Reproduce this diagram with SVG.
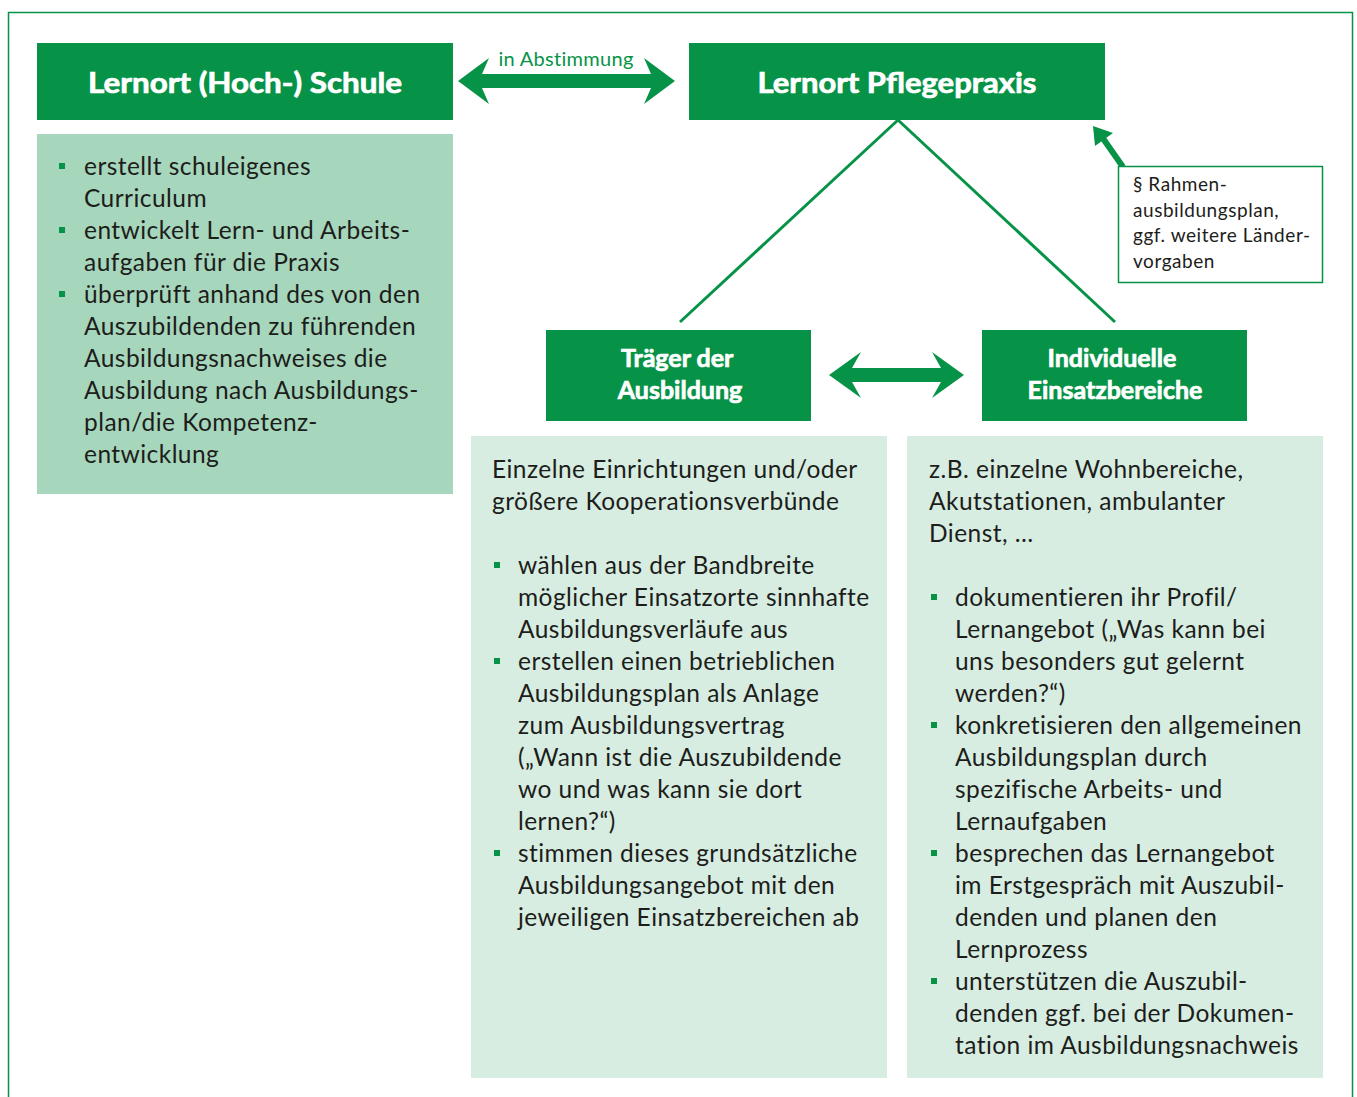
<svg xmlns="http://www.w3.org/2000/svg" width="1357" height="1097" viewBox="0 0 1357 1097">
<style>
.hdr{fill:#079347}
.lt{fill:#a6d6bc}
.pale{fill:#d7ede1}
.ht{font-family:Lato,"Open Sans",sans-serif;font-weight:bold;fill:#fff;stroke:#fff;stroke-width:0.7px;text-anchor:middle}
.bt{font-family:Lato,"Noto Sans",sans-serif;font-size:24.5px;letter-spacing:0.45px;fill:#1d1d1b}
.st{font-family:Lato,"Noto Sans",sans-serif;font-size:19px;letter-spacing:0.55px;fill:#1d1d1b}
.bul{fill:#079347}
.arr{fill:#079347}
.ln{stroke:#079347;stroke-width:3;fill:none}
</style>
<rect x="8.5" y="12.5" width="1344" height="1100" fill="#fff" stroke="#079347" stroke-width="1.5"/>

<g id="connectors">
  <polygon class="arr" points="458,81 489,58 482,74 651,74 644,58 675,81 644,104 651,88 482,88 489,104"/>
  <text x="566" y="66" text-anchor="middle" style="font-family:Lato,'Noto Sans',sans-serif;font-size:20px;letter-spacing:0.3px;fill:#079347">in Abstimmung</text>
  <polygon class="arr" points="829,375 861,352 852,368 941,368 932,352 964,375 932,398 941,382 852,382 861,398"/>
  <line class="ln" x1="898" y1="120" x2="680" y2="322"/>
  <line class="ln" x1="898" y1="120" x2="1115" y2="322"/>
  <line x1="1123" y1="167" x2="1102" y2="137" stroke="#079347" stroke-width="6"/>
  <polygon class="arr" points="1093,126 1113,133 1095,146"/>
</g>

<g id="schule">
  <rect class="hdr" x="37" y="43" width="416" height="77"/>
  <text class="ht" x="245" y="93" font-size="28" textLength="314" lengthAdjust="spacingAndGlyphs">Lernort (Hoch-) Schule</text>
  <rect class="lt" x="37" y="134" width="416" height="360"/>
  <rect class="bul" x="59" y="163" width="6" height="6"/>
  <rect class="bul" x="59" y="227" width="6" height="6"/>
  <rect class="bul" x="59" y="291" width="6" height="6"/>
  <text class="bt">
    <tspan x="84" y="175">erstellt schuleigenes</tspan>
    <tspan x="84" y="207">Curriculum</tspan>
    <tspan x="84" y="239">entwickelt Lern- und Arbeits-</tspan>
    <tspan x="84" y="271">aufgaben für die Praxis</tspan>
    <tspan x="84" y="303">überprüft anhand des von den</tspan>
    <tspan x="84" y="335">Auszubildenden zu führenden</tspan>
    <tspan x="84" y="367">Ausbildungsnachweises die</tspan>
    <tspan x="84" y="399">Ausbildung nach Ausbildungs-</tspan>
    <tspan x="84" y="431">plan/die Kompetenz-</tspan>
    <tspan x="84" y="463">entwicklung</tspan>
  </text>
</g>

<g id="pflegepraxis">
  <rect class="hdr" x="689" y="43" width="416" height="77"/>
  <text class="ht" x="897" y="93" font-size="28" textLength="279" lengthAdjust="spacingAndGlyphs">Lernort Pflegepraxis</text>
</g>

<g id="rahmen">
  <rect x="1118.5" y="166.5" width="204" height="116" fill="#fff" stroke="#079347" stroke-width="1.5"/>
  <text class="st">
    <tspan x="1133" y="191">§ Rahmen-</tspan>
    <tspan x="1133" y="217">ausbildungsplan,</tspan>
    <tspan x="1133" y="242">ggf. weitere Länder-</tspan>
    <tspan x="1133" y="268">vorgaben</tspan>
  </text>
</g>

<g id="traeger">
  <rect class="hdr" x="546" y="330" width="265" height="91"/>
  <text class="ht" font-size="25">
    <tspan x="680" y="367">Träger der</tspan>
    <tspan x="680" y="399">Ausbildung</tspan>
  </text>
  <rect class="pale" x="471" y="436" width="416" height="642"/>
  <rect class="bul" x="494" y="562" width="6" height="6"/>
  <rect class="bul" x="494" y="658" width="6" height="6"/>
  <rect class="bul" x="494" y="850" width="6" height="6"/>
  <text class="bt">
    <tspan x="492" y="478">Einzelne Einrichtungen und/oder</tspan>
    <tspan x="492" y="510">größere Kooperationsverbünde</tspan>
    <tspan x="518" y="574">wählen aus der Bandbreite</tspan>
    <tspan x="518" y="606">möglicher Einsatzorte sinnhafte</tspan>
    <tspan x="518" y="638">Ausbildungsverläufe aus</tspan>
    <tspan x="518" y="670">erstellen einen betrieblichen</tspan>
    <tspan x="518" y="702">Ausbildungsplan als Anlage</tspan>
    <tspan x="518" y="734">zum Ausbildungsvertrag</tspan>
    <tspan x="518" y="766">(„Wann ist die Auszubildende</tspan>
    <tspan x="518" y="798">wo und was kann sie dort</tspan>
    <tspan x="518" y="830">lernen?“)</tspan>
    <tspan x="518" y="862">stimmen dieses grundsätzliche</tspan>
    <tspan x="518" y="894">Ausbildungsangebot mit den</tspan>
    <tspan x="518" y="926">jeweiligen Einsatzbereichen ab</tspan>
  </text>
</g>

<g id="einsatzbereiche">
  <rect class="hdr" x="982" y="330" width="265" height="91"/>
  <text class="ht" font-size="25">
    <tspan x="1115" y="367">Individuelle</tspan>
    <tspan x="1115" y="399">Einsatzbereiche</tspan>
  </text>
  <rect class="pale" x="907" y="436" width="416" height="642"/>
  <rect class="bul" x="931" y="594" width="6" height="6"/>
  <rect class="bul" x="931" y="722" width="6" height="6"/>
  <rect class="bul" x="931" y="850" width="6" height="6"/>
  <rect class="bul" x="931" y="978" width="6" height="6"/>
  <text class="bt">
    <tspan x="929" y="478">z.B. einzelne Wohnbereiche,</tspan>
    <tspan x="929" y="510">Akutstationen, ambulanter</tspan>
    <tspan x="929" y="542">Dienst, …</tspan>
    <tspan x="955" y="606">dokumentieren ihr Profil/</tspan>
    <tspan x="955" y="638">Lernangebot („Was kann bei</tspan>
    <tspan x="955" y="670">uns besonders gut gelernt</tspan>
    <tspan x="955" y="702">werden?“)</tspan>
    <tspan x="955" y="734">konkretisieren den allgemeinen</tspan>
    <tspan x="955" y="766">Ausbildungsplan durch</tspan>
    <tspan x="955" y="798">spezifische Arbeits- und</tspan>
    <tspan x="955" y="830">Lernaufgaben</tspan>
    <tspan x="955" y="862">besprechen das Lernangebot</tspan>
    <tspan x="955" y="894">im Erstgespräch mit Auszubil-</tspan>
    <tspan x="955" y="926">denden und planen den</tspan>
    <tspan x="955" y="958">Lernprozess</tspan>
    <tspan x="955" y="990">unterstützen die Auszubil-</tspan>
    <tspan x="955" y="1022">denden ggf. bei der Dokumen-</tspan>
    <tspan x="955" y="1054">tation im Ausbildungsnachweis</tspan>
  </text>
</g>
</svg>
